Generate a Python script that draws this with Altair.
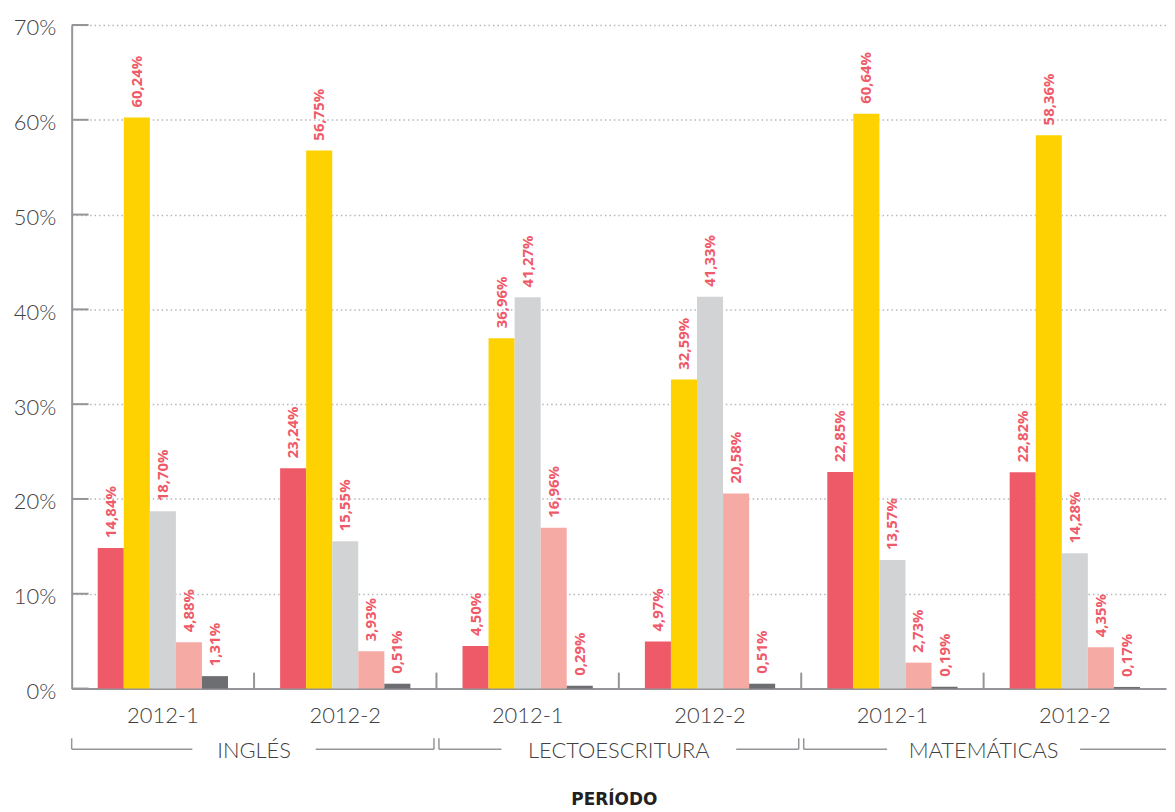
import altair as alt
import pandas as pd

# ---------------- data ----------------
subjects = ["INGLÉS", "LECTOESCRITURA", "MATEMÁTICAS"]
periods = ["2012-1", "2012-2"]
series = ["Serie 1", "Serie 2", "Serie 3", "Serie 4", "Serie 5"]

ingles_2012_1 = [14.84, 60.24, 18.70, 4.88, 1.31]
ingles_2012_2 = [23.24, 56.75, 15.55, 3.93, 0.51]
lecto_2012_1 = [4.50, 36.96, 41.27, 16.96, 0.29]
lecto_2012_2 = [4.97, 32.59, 41.33, 20.58, 0.51]
mate_2012_1 = [22.85, 60.64, 13.57, 2.73, 0.19]
mate_2012_2 = [22.82, 58.36, 14.28, 4.35, 0.17]

values = {
    ("INGLÉS", "2012-1"): ingles_2012_1,
    ("INGLÉS", "2012-2"): ingles_2012_2,
    ("LECTOESCRITURA", "2012-1"): lecto_2012_1,
    ("LECTOESCRITURA", "2012-2"): lecto_2012_2,
    ("MATEMÁTICAS", "2012-1"): mate_2012_1,
    ("MATEMÁTICAS", "2012-2"): mate_2012_2,
}
tick_values = [0, 10, 20, 30, 40, 50, 60, 70]

# ---------------- styles ----------------
colors = ["#EF5A69", "#FDD200", "#D1D3D4", "#F6AAA4", "#6D6E71"]
AXIS = "#939598"
GRID = "#B5B7BA"
TXT = "#414042"
LBL = "#EF5A69"
FONT = "Lato"
LFONT = "Open Sans"
W, H = 1100, 667
SP = 20      # gap between plot and bracket strip
BH = 44      # bracket strip height

# ---------------- tables ----------------
grp_order = [f"{s}|{p}" for s in subjects for p in periods]
rows = []
for s in subjects:
    for p in periods:
        for ser, v in zip(series, values[(s, p)]):
            rows.append({"grp": f"{s}|{p}", "series": ser, "value": v,
                         "label": f"{v:.2f}".replace(".", ",") + "%"})
df = pd.DataFrame(rows)

xscale = alt.Scale(domain=grp_order, paddingInner=0, paddingOuter=0)
oscale = alt.Scale(domain=series, paddingInner=0, paddingOuter=1.0)
yscale = alt.Scale(domain=[0, 70], nice=False, zero=True)

bars = alt.Chart(df).mark_bar().encode(
    x=alt.X("grp:N", scale=xscale, sort=grp_order, axis=alt.Axis(
        title="PERÍODO", labelExpr="split(datum.label, '|')[1]", ticks=False,
        domainColor=AXIS, domainWidth=2, labelFont=FONT, labelFontSize=22,
        labelFontWeight=300, labelColor=TXT, labelPadding=17, labelAngle=0,
        titleFont="DejaVu Sans", titleFontSize=17, titleFontWeight="bold",
        titleColor="#231F20", titleX=545, titleY=112, titleBaseline="middle",
        titleAlign="center", grid=False)),
    xOffset=alt.XOffset("series:N", scale=oscale, sort=series),
    y=alt.Y("value:Q", scale=yscale, axis=alt.Axis(
        values=tick_values, labelExpr="datum.value + '%'", title=None, ticks=False,
        domainColor=AXIS, domainWidth=2, labelFont=FONT, labelFontSize=22,
        labelFontWeight=300, labelColor=TXT, labelPadding=16, labelOffset=3,
        grid=True, gridColor=GRID, gridDash=[1.5, 3], gridWidth=1.5)),
    color=alt.Color("series:N", scale=alt.Scale(domain=series, range=colors), legend=None),
)

labels = alt.Chart(df).mark_text(
    angle=270, align="left", baseline="middle", dx=10, font=LFONT, fontSize=15,
    fontWeight="bold", color=LBL,
).encode(
    x=alt.X("grp:N", scale=xscale, sort=grp_order),
    xOffset=alt.XOffset("series:N", scale=oscale, sort=series),
    y=alt.Y("value:Q", scale=yscale),
    text="label:N",
)

inticks = alt.Chart(pd.DataFrame({"v": tick_values})).mark_rule(color=AXIS, strokeWidth=2).encode(
    y=alt.Y("v:Q", scale=yscale), x=alt.value(0), x2=alt.value(17))

seps = alt.Chart(pd.DataFrame({"grp": grp_order[1:]})).mark_rule(color=AXIS, strokeWidth=2).encode(
    x=alt.X("grp:N", scale=xscale, sort=grp_order, bandPosition=0),
    y=alt.value(H - 16), y2=alt.value(H))

top = alt.layer(bars, labels, inticks, seps).properties(width=W, height=H)

# ---------------- bracket strip (group units on its own scale) ----------------
n = len(subjects) * len(periods)
gap = 2.5 * n / W
seg_rows, tick_rows, name_rows = [], [], []
for k, s in enumerate(subjects):
    L = 2 * k + (gap if k > 0 else 0)
    R = 2 * k + 2 - (gap if k < len(subjects) - 1 else 0)
    C = 2 * k + 1
    hw = (7 * len(s) + 20) * n / W
    seg_rows += [{"a": L, "b": C - hw}, {"a": C + hw, "b": R}]
    tick_rows.append({"a": L})
    if k < len(subjects) - 1:
        tick_rows.append({"a": R})
    name_rows.append({"c": C, "subject": s})

qx = alt.Scale(domain=[0, n], nice=False, zero=False)
LINE_Y = 61 - SP
br_lines = alt.Chart(pd.DataFrame(seg_rows)).mark_rule(color=AXIS, strokeWidth=1.5).encode(
    x=alt.X("a:Q", scale=qx, axis=None), x2="b:Q", y=alt.value(LINE_Y))
br_ticks = alt.Chart(pd.DataFrame(tick_rows)).mark_rule(color=AXIS, strokeWidth=1.5).encode(
    x=alt.X("a:Q", scale=qx, axis=None), y=alt.value(LINE_Y - 11), y2=alt.value(LINE_Y))
names = alt.Chart(pd.DataFrame(name_rows)).mark_text(
    font=FONT, fontSize=22, fontWeight=300, color=TXT, baseline="middle", align="center"
).encode(x=alt.X("c:Q", scale=qx, axis=None), y=alt.value(LINE_Y + 2), text="subject:N")

bottom = alt.layer(br_lines, br_ticks, names).properties(width=W, height=BH)

chart = alt.vconcat(top, bottom, spacing=SP, bounds="flush").properties(
    padding={"left": 5, "top": 7, "right": 0, "bottom": 0},
    background="white",
).configure_view(stroke=None)

chart.save("out.html", embed_options={"renderer": "svg", "actions": False})
